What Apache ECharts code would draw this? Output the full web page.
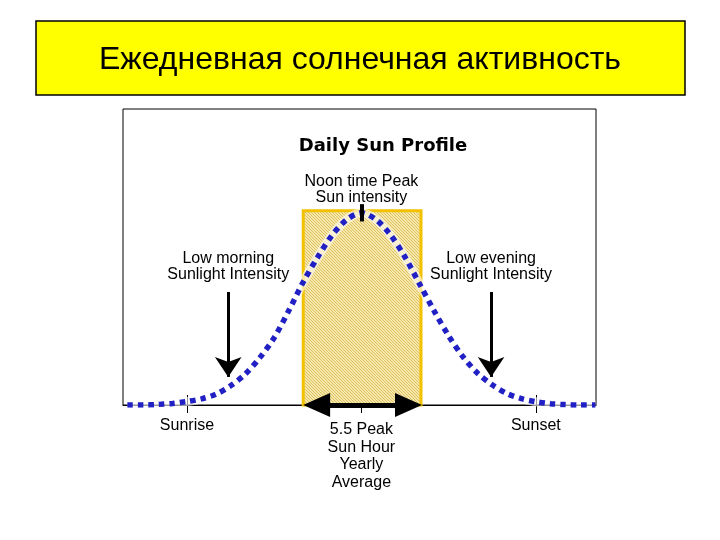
<!DOCTYPE html>
<html>
<head>
<meta charset="utf-8">
<script src="https://cdn.jsdelivr.net/npm/echarts@6/dist/echarts.min.js"></script>
<style>
  html, body { margin: 0; padding: 0; background: #fff; }
  #main { width: 720px; height: 540px; }
</style>
</head>
<body>
<div id="main"></div>
<script>
// hour of the day and relative sun intensity (%)
var hours = [3.95, 4.5, 5, 5.5, 6, 6.5, 7, 7.5, 8, 8.5, 9, 9.5, 10, 10.5, 11, 11.5, 12,
             12.5, 13, 13.5, 14, 14.5, 15, 15.5, 16, 16.5, 17, 17.5, 18, 18.5, 19, 19.5, 20.05];
var intensity = [0, 0, 0.3, 0.8, 1.8, 3.2, 5.6, 10, 16, 24.5, 35, 49, 64, 77, 88.5, 96.5, 100,
                 96.5, 88.5, 77, 63, 49, 36, 25, 16.5, 10.5, 6, 3.3, 1.7, 0.7, 0.2, 0, 0];
var tickHours = [6, 12, 18];
var tickNames = { 6: 'Sunrise', 18: 'Sunset' };
var peakText = '5.5 Peak\nSun Hour\nYearly\nAverage';
var peakWindow = [10, 14.05];   // shaded block, hours
var peakTop = 101;
var mainTitle = 'Ежедневная солнечная активность';
var chartTitle = 'Daily Sun Profile';
var noonText = 'Noon time Peak\nSun intensity';
var morningText = 'Low morning\nSunlight Intensity';
var eveningText = 'Low evening\nSunlight Intensity';
var morningArrow = [7.42, 58.8, 14.6];  // hour, from, to
var eveningArrow = [16.46, 58.8, 14.6];
var noonTick = [12, 104.5, 95.5];
var spanArrow = [10.46, 13.62];

var FONT = '"Liberation Sans", Arial, sans-serif';

// hatched fill for the peak block
var hatch = document.createElement('canvas');
hatch.width = 6;
hatch.height = 6;
var hc = hatch.getContext('2d');
hc.fillStyle = '#f6e7ab';
hc.fillRect(0, 0, 6, 6);
hc.strokeStyle = '#dcc062';
hc.lineWidth = 1;
[-6, -3, 0, 3].forEach(function (x0) {
    hc.beginPath();
    hc.moveTo(x0, 0);
    hc.lineTo(x0 + 6, 6);
    hc.stroke();
});

var points = hours.map(function (h, i) { return [h, intensity[i]]; });

function label(text, dist) {
    return {
        show: true, position: 'start', distance: dist, formatter: text,
        color: '#000', fontSize: 16, lineHeight: 16.5, fontFamily: FONT
    };
}

var myChart = echarts.init(document.getElementById('main'));
var option = {
    animation: false,
    backgroundColor: '#fff',
    graphic: [{
        type: 'rect', z: -1,
        shape: { x: 36, y: 21, width: 649, height: 74 },
        style: { fill: '#ffff00', stroke: '#000', lineWidth: 1.5 }
    }],
    title: [{
        text: mainTitle, left: 'center', top: 44, padding: 0,
        textStyle: { fontSize: 32, fontWeight: 'normal', color: '#000', fontFamily: FONT }
    }, {
        text: chartTitle, left: 383, top: 137, padding: 0, textAlign: 'center',
        textStyle: { fontSize: 18, fontWeight: 'bold', color: '#000', fontFamily: '"DejaVu Sans", sans-serif' }
    }],
    grid: {
        left: 123, right: 124, top: 109, bottom: 135,
        show: true, borderColor: '#000', borderWidth: 1, backgroundColor: 'transparent'
    },
    xAxis: [{
        type: 'value', min: 3.8, max: 20.07,
        axisLine: { show: true, lineStyle: { color: '#000', width: 1 } },
        axisTick: { show: true, customValues: tickHours, length: 8, lineStyle: { color: '#000' } },
        axisLabel: {
            customValues: [6, 18], margin: 12.5,
            formatter: function (v) { return tickNames[v] || ''; },
            color: '#000', fontSize: 16, lineHeight: 17, fontFamily: FONT
        },
        splitLine: { show: false }
    }, {
        type: 'value', min: 3.8, max: 20.07, position: 'bottom',
        axisLine: { show: false },
        axisTick: { show: true, inside: true, customValues: tickHours, length: 10, lineStyle: { color: '#000' } },
        axisLabel: {
            customValues: [12], margin: 16,
            formatter: function () { return peakText; },
            color: '#000', fontSize: 16, lineHeight: 17.5, fontFamily: FONT
        },
        splitLine: { show: false }
    }],
    yAxis: { type: 'value', min: 0, max: 154, show: false },
    series: [{
        type: 'line', data: points, symbol: 'none', smooth: 0.3, silent: true, z: 2,
        lineStyle: { color: 'rgba(255,255,255,0.6)', width: 9 },
        markArea: {
            silent: true,
            itemStyle: { color: { image: hatch, repeat: 'repeat' }, borderColor: '#f2c200', borderWidth: 3 },
            data: [[{ xAxis: peakWindow[0], yAxis: 0 }, { xAxis: peakWindow[1], yAxis: peakTop }]]
        }
    }, {
        type: 'line', data: points, symbol: 'none', smooth: 0.3, silent: true, z: 3,
        lineStyle: { color: '#2020c4', width: 5.5, type: [5.5, 5], cap: 'butt' },
        markLine: {
            silent: true, symbol: 'none', z: 5,
            data: [
                [{ coord: [noonTick[0], noonTick[1]], symbol: 'none',
                   lineStyle: { color: '#000', width: 4, type: 'solid' }, label: label(noonText, -2) },
                 { coord: [noonTick[0], noonTick[2]], symbol: 'none' }],
                [{ coord: [morningArrow[0], morningArrow[1]], symbol: 'none',
                   lineStyle: { color: '#000', width: 3, type: 'solid' }, label: label(morningText, 9) },
                 { coord: [morningArrow[0], morningArrow[2]], symbol: 'arrow', symbolSize: [20, 20] }],
                [{ coord: [eveningArrow[0], eveningArrow[1]], symbol: 'none',
                   lineStyle: { color: '#000', width: 3, type: 'solid' }, label: label(eveningText, 9) },
                 { coord: [eveningArrow[0], eveningArrow[2]], symbol: 'arrow', symbolSize: [20, 20] }],
                [{ coord: [spanArrow[0], 0], symbol: 'triangle', symbolSize: [24, 27],
                   lineStyle: { color: '#000', width: 5, type: 'solid' }, label: { show: false } },
                 { coord: [spanArrow[1], 0], symbol: 'triangle', symbolSize: [24, 27] }]
            ]
        }
    }]
};
myChart.setOption(option);
</script>
</body>
</html>
